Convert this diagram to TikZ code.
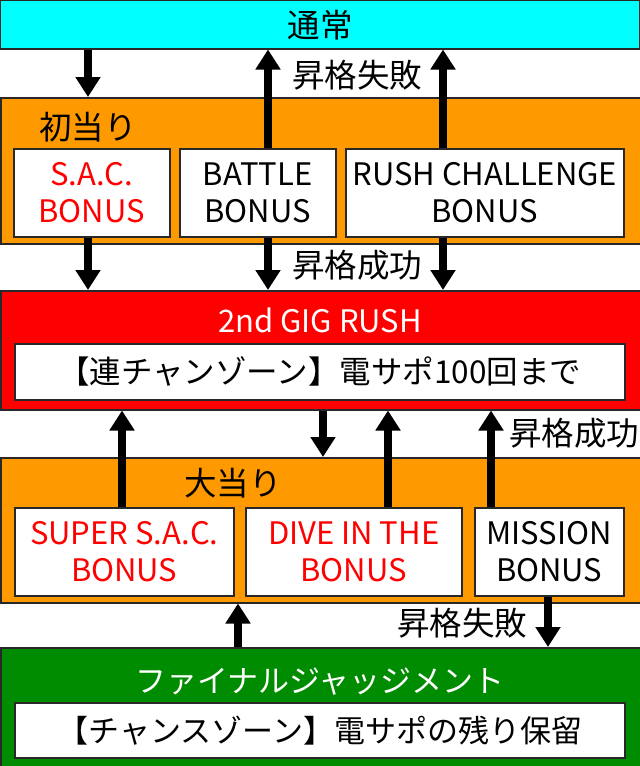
\documentclass[tikz,border=0pt]{standalone}
\usepackage{fontspec}
\setmainfont{Noto Sans CJK JP}
\usetikzlibrary{arrows.meta}
\definecolor{cy}{RGB}{0,255,255}
\definecolor{org}{RGB}{255,153,0}
\definecolor{rd}{RGB}{255,0,0}
\definecolor{gr}{RGB}{0,140,0}
\definecolor{bd}{RGB}{40,40,40}
\newcommand\jf{\fontsize{31}{37}\selectfont}
\newcommand\jl{\fontsize{32.5}{37}\selectfont}
\newcommand\jm{\fontsize{31.5}{37}\selectfont}
\begin{document}
\begin{tikzpicture}[x=1pt,y=-1pt,
  band/.style={draw=bd,line width=1.5pt,anchor=north west,inner sep=0pt,minimum width=640pt},
  wbox/.style={draw=bd,line width=1.5pt,fill=white,anchor=north west,inner sep=0pt,align=center,font=\jf},
  lbl/.style={inner sep=0pt,font=\jl},
  arr/.style={line width=8pt,-{Triangle[width=24pt,length=20pt]}}
]
\useasboundingbox (0,0) rectangle (640,766);
\fill[white] (0,0) rectangle (640,766);
% bands
\node[band,fill=cy,minimum height=49pt] (top) at (-1,-1) {};
\node[band,fill=org,minimum height=146pt] (hatsu) at (0,97) {};
\node[band,fill=rd,minimum height=119pt] (rush) at (0,290) {};
\node[band,fill=org,minimum height=145pt] (oo) at (0,457) {};
\node[band,fill=gr,minimum height=122pt] (fin) at (0,647) {};
% titles
\node[lbl] (tsujo) at (320,25) {通常};
\node[lbl] (hatsut) at (88,127) {初当り};
\node[lbl,font=\jf,text=white] (rusht) at (320,320) {2nd GIG RUSH};
\node[lbl] (oot) at (233,483) {大当り};
\node[lbl,font=\jf,text=white] (fint) at (320,682) {ファイナルジャッジメント};
% inner boxes
\node[wbox,text=rd,minimum width=156pt,minimum height=88pt] (sac) at (13,148) {S.A.C.\\BONUS};
\node[wbox,minimum width=156pt,minimum height=88pt] (battle) at (179,148) {BATTLE\\BONUS};
\node[wbox,minimum width=278pt,minimum height=88pt] (rc) at (345,148) {RUSH CHALLENGE\\BONUS};
\node[wbox,font=\jm,minimum width=610pt,minimum height=56pt] (ren) at (14,343) {【連チャンゾーン】電サポ100回まで};
\node[wbox,text=rd,minimum width=219pt,minimum height=88pt] (ssac) at (14,507) {SUPER S.A.C.\\BONUS};
\node[wbox,text=rd,minimum width=216pt,minimum height=88pt] (dive) at (245,507) {DIVE IN THE\\BONUS};
\node[wbox,minimum width=149pt,minimum height=88pt] (mission) at (474,507) {MISSION\\BONUS};
\node[wbox,font=\jf,minimum width=610pt,minimum height=55pt] (chance) at (14,702) {【チャンスゾーン】電サポの残り保留};
% arrow x positions
\coordinate (xa) at (88,0);
\coordinate (xb) at (268,0);
\coordinate (xc) at (443,0);
\coordinate (xd) at (122,0);
\coordinate (xe) at (323,0);
\coordinate (xf) at (388,0);
\coordinate (xg) at (491,0);
\coordinate (xh) at (238,0);
\coordinate (xi) at (548,0);
% arrows
\draw[arr] (top.south -| xa) -- (hatsu.north -| xa);
\draw[arr] (battle.north -| xb) -- (top.south -| xb);
\draw[arr] (rc.north -| xc) -- (top.south -| xc);
\draw[arr] (sac.south -| xa) -- (rush.north -| xa);
\draw[arr] (battle.south -| xb) -- (rush.north -| xb);
\draw[arr] (rc.south -| xc) -- (rush.north -| xc);
\draw[arr] (ssac.north -| xd) -- (rush.south -| xd);
\draw[arr] (rush.south -| xe) -- (oo.north -| xe);
\draw[arr] (dive.north -| xf) -- (rush.south -| xf);
\draw[arr] (mission.north -| xg) -- (rush.south -| xg);
\draw[arr] (fin.north -| xh) -- (oo.south -| xh);
\draw[arr] (mission.south -| xi) -- (fin.north -| xi);
% labels
\node[lbl] (fail1) at (357,75) {昇格失敗};
\node[lbl] (succ1) at (357,265) {昇格成功};
\node[lbl,anchor=west] (succ2) at (509,433) {昇格成功};
\node[lbl] (fail2) at (462,623) {昇格失敗};
\end{tikzpicture}
\end{document}
